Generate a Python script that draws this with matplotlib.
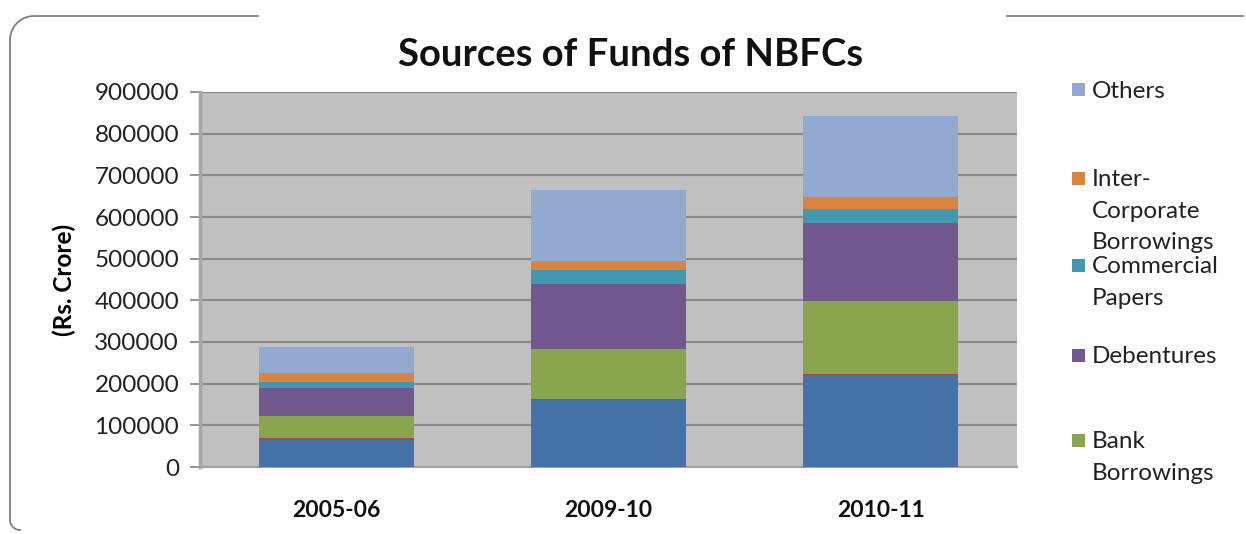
import matplotlib
matplotlib.use("Agg")
import matplotlib.pyplot as plt
from matplotlib.lines import Line2D
from matplotlib.patches import Rectangle
import numpy as np

years = ["2005-06", "2009-10", "2010-11"]
owned_funds = [66000, 160000, 220000]
public_deposits = [4000, 4000, 4000]
bank_borrowings = [51500, 120000, 173600]
debentures = [68500, 155000, 188000]
commercial_papers = [15000, 33700, 34400]
inter_corporate = [19500, 21700, 27200]
others = [64300, 169600, 194400]

series = [
    ("Owned Funds", owned_funds, "#4572A7"),
    ("Public Deposits", public_deposits, "#AA4643"),
    ("Bank\nBorrowings", bank_borrowings, "#89A54E"),
    ("Debentures", debentures, "#71588F"),
    ("Commercial\nPapers", commercial_papers, "#4198AF"),
    ("Inter-\nCorporate\nBorrowings", inter_corporate, "#DB843D"),
    ("Others", others, "#93A9CF"),
]
yticks = [0, 100000, 200000, 300000, 400000, 500000, 600000, 700000, 800000, 900000]

FONT = ["Lato", "DejaVu Sans"]
plt.rcParams["font.family"] = FONT

W, H = 1246, 534
fig = plt.figure(figsize=(W / 100, H / 100), dpi=100)
fig.patch.set_facecolor("white")

def fx(px):
    return px / W

def fy(py):
    return 1 - py / H

ax = fig.add_axes([fx(200), fy(467), fx(1017) - fx(200), fy(92) - fy(467)])
ax.set_facecolor("#C0C0C0")

x = np.arange(len(years))
bottom = np.zeros(len(years))
for name, vals, col in series:
    ax.bar(x, vals, 0.57, bottom=bottom, color=col, edgecolor="none", zorder=3)
    bottom += np.array(vals)

ax.set_xlim(-0.5, 2.5)
ax.set_ylim(0, 900000)
ax.set_yticks(yticks)
ax.set_yticklabels([str(v) for v in yticks], fontsize=17.5, color="#222222")
ax.set_xticks(x)
ax.set_xticklabels(years, fontsize=16.5, fontweight="bold", color="#111111")
ax.yaxis.grid(True, color="#8A8A8A", linewidth=1.6, zorder=1)
ax.set_axisbelow(True)
for s in ["top", "right"]:
    ax.spines[s].set_visible(False)
ax.spines["left"].set_color("#A6A6A6")
ax.spines["left"].set_linewidth(2.5)
ax.spines["bottom"].set_color("#A0A0A0")
ax.spines["bottom"].set_linewidth(1.5)
ax.tick_params(axis="y", length=7, width=1.3, color="#8A8A8A", pad=8)
ax.tick_params(axis="x", length=0, pad=24)
ax.set_ylabel("(Rs. Crore)", fontsize=17.5, fontweight="bold", labelpad=13)

fig.text(fx(631), fy(55), "Sources of Funds of NBFCs", ha="center", va="center",
         fontsize=27.5, fontweight="bold", color="#111111")

# legend (manual, matching reference layout)
legend_entries = [
    ("Others", 90),
    ("Inter-\nCorporate\nBorrowings", 178),
    ("Commercial\nPapers", 265),
    ("Debentures", 355),
    ("Bank\nBorrowings", 440),
]
colors = {name: col for name, _, col in series}
for name, ypx in legend_entries:
    fig.patches.append(Rectangle((fx(1072), fy(ypx + 6.5)), fx(13), fy(0) - fy(13),
                                 transform=fig.transFigure, facecolor=colors[name],
                                 edgecolor="none"))
    fig.text(fx(1092), fy(ypx - 9), name, ha="left", va="top", fontsize=17.5,
             color="#222222", linespacing=1.62)

# partial rounded frame
lc = "#808080"
r = 24
t = np.linspace(np.pi, np.pi / 2, 20)
cy = 16 + r
xs = list(10 + r + r * np.cos(t))
ys = list(cy - r * np.sin(t))
pts_x = [10] + xs + [258]
pts_y = [520] + ys + [16]
t2 = np.linspace(np.pi, 3 * np.pi / 2, 10)
bx = list(10 + 10 + 10 * np.cos(t2))
by = list(520 - 10 * np.sin(t2))
all_x = bx[::-1] + pts_x
all_y = by[::-1] + pts_y
fig.lines.append(Line2D([fx(v) for v in all_x], [fy(v) for v in all_y],
                        transform=fig.transFigure, color=lc, linewidth=1.3))
fig.lines.append(Line2D([fx(1007), fx(1243)], [fy(16), fy(16)],
                        transform=fig.transFigure, color=lc, linewidth=1.3))

fig.savefig("out.png", dpi=100, facecolor="white")
